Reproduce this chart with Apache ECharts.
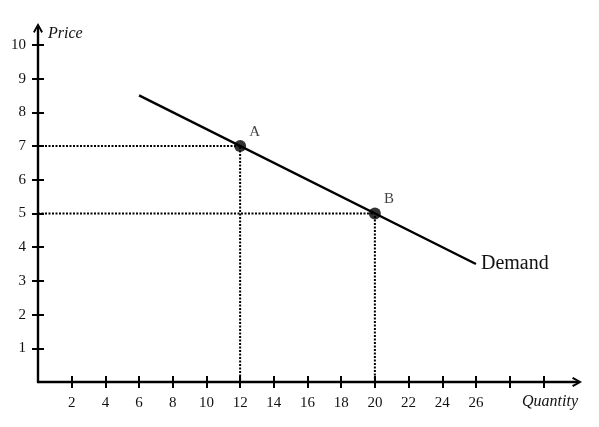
<!DOCTYPE html>
<html>
<head>
<meta charset="utf-8">
<script src="https://cdn.jsdelivr.net/npm/echarts@6/dist/echarts.min.js"></script>
<style>
  html, body { margin: 0; padding: 0; background: #fff; }
  #chart { width: 599px; height: 427px; }
</style>
</head>
<body>
<div id="chart"></div>
<script>
// demand curve end points
const demandQty = [6, 26];
const demandPrice = [8.5, 3.5];

// marked points on the curve
const pointNames = ['A', 'B'];
const pointQty = [12, 20];
const pointPrice = [7, 5];

// ticks / labels
const xTickValues = [2, 4, 6, 8, 10, 12, 14, 16, 18, 20, 22, 24, 26, 28, 30];
const xLabelValues = [2, 4, 6, 8, 10, 12, 14, 16, 18, 20, 22, 24, 26];
const yTickValues = [1, 2, 3, 4, 5, 6, 7, 8, 9, 10];

const serif = "'Liberation Serif', 'DejaVu Serif', serif";
// open chevron used as the axis arrow head
const chevron = 'path://M5,0 L10,9 L8.4,10.2 L5,3.6 L1.6,10.2 L0,9 Z';

const chart = echarts.init(document.getElementById('chart'));

const demandData = demandQty.map((q, i) => [q, demandPrice[i]]);
const pointData = pointQty.map((q, i) => ({ name: pointNames[i], value: [q, pointPrice[i]] }));

// dotted guides: from price axis across to the point, then down to quantity axis
const guideSeries = pointQty.map((q, i) => ({
  type: 'line',
  data: [[0, pointPrice[i]], [q, pointPrice[i]], [q, 0]],
  symbol: 'none',
  silent: true,
  lineStyle: { color: '#000', width: 2, type: [2, 1.5] },
  z: 2
}));

const baseX = {
  type: 'value',
  min: 0,
  max: 32,
  position: 'bottom',
  splitLine: { show: false }
};
const baseY = {
  type: 'value',
  min: 0,
  max: 10.5,
  position: 'left',
  splitLine: { show: false }
};

const option = {
  backgroundColor: '#fff',
  animation: false,
  grid: { left: 38, right: 22, top: 28, bottom: 45 },
  xAxis: [
    Object.assign({}, baseX, {
      name: 'Quantity',
      nameLocation: 'end',
      nameGap: -55,
      nameTextStyle: {
        fontFamily: serif, fontStyle: 'italic', fontSize: 16, color: '#111',
        align: 'left', verticalAlign: 'top', padding: [12, 0, 0, 0]
      },
      axisLine: {
        show: true,
        lineStyle: { color: '#000', width: 2.4 },
        symbol: ['none', chevron],
        symbolSize: [13, 10]
      },
      axisTick: { show: true, customValues: xTickValues, length: 6, lineStyle: { color: '#000', width: 2 } },
      axisLabel: {
        customValues: xLabelValues, margin: 14,
        fontFamily: serif, fontSize: 15, color: '#111'
      }
    }),
    Object.assign({}, baseX, {
      axisLine: { show: false },
      axisTick: { show: true, inside: true, customValues: xTickValues, length: 6, lineStyle: { color: '#000', width: 2 } },
      axisLabel: { show: false }
    })
  ],
  yAxis: [
    Object.assign({}, baseY, {
      name: 'Price',
      nameLocation: 'end',
      nameGap: -6,
      nameTextStyle: {
        fontFamily: serif, fontStyle: 'italic', fontSize: 16, color: '#111',
        align: 'left', verticalAlign: 'middle', padding: [0, 0, 0, 10]
      },
      axisLine: {
        show: true,
        lineStyle: { color: '#000', width: 2.4 },
        symbol: ['none', chevron],
        symbolSize: [13, 10]
      },
      axisTick: { show: true, customValues: yTickValues, length: 6, lineStyle: { color: '#000', width: 2 } },
      axisLabel: {
        customValues: yTickValues, margin: 12,
        fontFamily: serif, fontSize: 15, color: '#111'
      }
    }),
    Object.assign({}, baseY, {
      axisLine: { show: false },
      axisTick: { show: true, inside: true, customValues: yTickValues, length: 6, lineStyle: { color: '#000', width: 2 } },
      axisLabel: { show: false }
    })
  ],
  series: guideSeries.concat([
    {
      name: 'Demand',
      type: 'line',
      data: demandData,
      symbol: 'none',
      lineStyle: { color: '#000', width: 2.4 },
      endLabel: {
        show: true,
        formatter: 'Demand',
        distance: 5,
        fontFamily: serif,
        fontSize: 20,
        color: '#111'
      },
      z: 3
    },
    {
      type: 'scatter',
      data: pointData,
      symbol: 'circle',
      symbolSize: 12,
      itemStyle: { color: '#000' },
      label: {
        show: true,
        formatter: '{b}',
        position: 'right',
        offset: [-2, -14],
        fontFamily: serif,
        fontSize: 15,
        color: '#111'
      },
      z: 4
    }
  ])
};

chart.setOption(option);
</script>
</body>
</html>
